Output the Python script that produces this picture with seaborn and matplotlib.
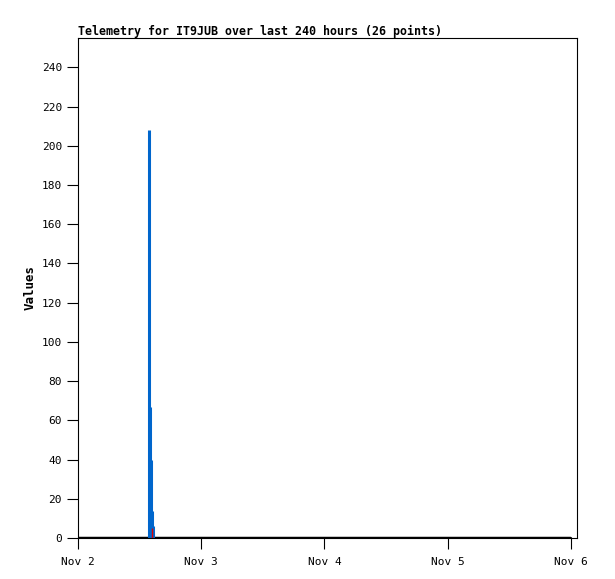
import numpy as np
import pandas as pd
import matplotlib
matplotlib.use("Agg")
import matplotlib.pyplot as plt
import seaborn as sns

# hours since Nov 2 00:00
blue_hours = [13.9, 14.1, 14.3, 14.5, 14.7]
blue_vals = [208, 67, 40, 14, 6]
red_hours = [14.4]
red_vals = [5]
black_hours = [0, 5, 10, 16, 20, 24, 29, 34, 40, 46, 52, 58, 64, 70, 76, 82, 88, 92, 95.8, 95.9]
black_vals = [0] * len(black_hours)
tick_hours = [0, 24, 48, 72, 96]
tick_labels = ["Nov 2", "Nov 3", "Nov 4", "Nov 5", "Nov 6"]

sns.set_style("ticks")
plt.rcParams['font.family'] = ['DejaVu Sans Mono']
plt.rcParams['text.color'] = 'black'
plt.rcParams['axes.labelcolor'] = 'black'
plt.rcParams['xtick.color'] = 'black'
plt.rcParams['ytick.color'] = 'black'

fig = plt.figure(figsize=(6.15, 5.79), dpi=100)
ax = fig.add_axes([78 / 615, 1 - 538 / 579, 499 / 615, 500 / 579])

black_df = pd.DataFrame({"hour": black_hours, "value": black_vals})
sns.lineplot(data=black_df, x="hour", y="value", color="black", linewidth=2.5, ax=ax)
ax.vlines(blue_hours, 0, blue_vals, color="#0066cc", linewidth=2.2)
ax.vlines(red_hours, 0, red_vals, color="#dd0000", linewidth=1)

ax.set_xlim(0, 97.2)
ax.set_ylim(0, 255)
ax.set_yticks(range(0, 241, 20))
ax.set_xticks(tick_hours)
ax.set_xticklabels(tick_labels)
ax.tick_params(labelsize=8, length=8, width=0.8)
ax.tick_params(axis="x", pad=6)
ax.set_xlabel("")
ax.set_ylabel("Values", fontsize=9, fontweight="bold")
ax.set_title("Telemetry for IT9JUB over last 240 hours (26 points)",
             loc="left", fontsize=8.4, fontweight="bold", pad=2)
for s in ax.spines.values():
    s.set_linewidth(0.8)
    s.set_color("black")

fig.savefig("out.png", dpi=100)
